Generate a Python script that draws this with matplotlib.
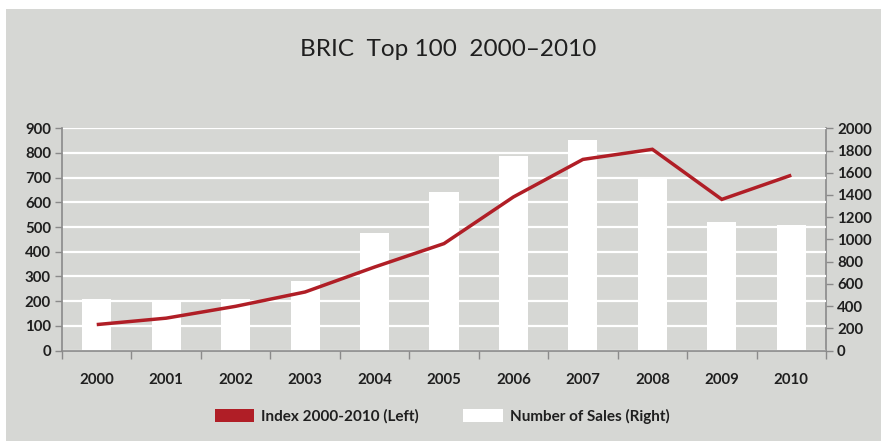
import matplotlib
matplotlib.use("Agg")
import matplotlib.pyplot as plt
from matplotlib.patches import Patch, Rectangle
import numpy as np

# Data
years = ["2000", "2001", "2002", "2003", "2004", "2005",
         "2006", "2007", "2008", "2009", "2010"]
index_left = [105, 131, 179, 237, 338, 433, 622, 774, 815, 612, 710]
sales_right = [466, 442, 466, 629, 1058, 1428, 1750, 1895, 1549, 1158, 1127]
left_ticks = list(range(0, 901, 100))
right_ticks = list(range(0, 2001, 200))

title = "BRIC  Top 100  2000\u20132010"
line_label = "Index 2000-2010 (Left)"
bar_label = "Number of Sales (Right)"

# Styling
BG = "#d6d7d4"
RED = "#b01e26"
TXT = "#1f1f1f"
AXC = "#8a8a8a"
plt.rcParams["font.family"] = ["Lato", "DejaVu Sans"]

W, H = 881, 441
fig = plt.figure(figsize=(W / 100, H / 100), dpi=100, facecolor="white")
fig.patches.append(Rectangle((6 / W, 0), 1 - 6 / W, 1 - 9 / H,
                             transform=fig.transFigure, facecolor=BG,
                             edgecolor="none", zorder=-10))

x0, x1 = 62, 826
y_top, y_bot = 128.3, 350.5
ax = fig.add_axes([x0 / W, 1 - y_bot / H, (x1 - x0) / W, (y_bot - y_top) / H])
axr = ax.twinx()
ax.set_zorder(axr.get_zorder() + 1)
ax.patch.set_visible(False)
axr.patch.set_visible(False)

x = np.arange(len(years))

# Bars on the right-hand scale
axr.bar(x, sales_right, width=0.42, color="white", edgecolor="none", zorder=2)
axr.set_ylim(0, 2000)
axr.set_yticks(right_ticks)

# Index line on the left-hand scale
ax.plot(x, index_left, color=RED, lw=2.5, solid_capstyle="butt",
        solid_joinstyle="miter", zorder=3)
ax.set_ylim(0, 900)
ax.set_yticks(left_ticks)
ax.set_xlim(-0.5, len(years) - 0.5)
ax.yaxis.grid(True, color="white", lw=1.6, zorder=1)
ax.set_axisbelow(True)

# Category ticks between years, labels centred
ax.set_xticks(x)
ax.set_xticklabels(years)
ax.set_xticks(np.arange(-0.5, len(years), 1.0), minor=True)
ax.tick_params(axis="x", which="major", length=0, pad=16,
               labelsize=10.8, labelcolor=TXT)
ax.tick_params(axis="x", which="minor", length=6, width=1, color=AXC)
for lab in ax.get_xticklabels():
    lab.set_fontweight("bold")

ax.tick_params(axis="y", length=5, width=1, color=AXC, labelsize=10.8,
               labelcolor=TXT, pad=3)
axr.tick_params(axis="y", length=5, width=1, color=AXC, labelsize=10.8,
                labelcolor=TXT, pad=3)
for lab in ax.get_yticklabels() + axr.get_yticklabels():
    lab.set_fontweight("bold")
axr.tick_params(axis="x", length=0)

for a in (ax, axr):
    a.spines["top"].set_visible(False)
ax.spines["right"].set_visible(False)
axr.spines["left"].set_visible(False)
axr.spines["bottom"].set_visible(False)
ax.spines["left"].set_color(AXC)
ax.spines["bottom"].set_color(AXC)
axr.spines["right"].set_color(AXC)
for s in (ax.spines["left"], ax.spines["bottom"], axr.spines["right"]):
    s.set_linewidth(1.2)

fig.text(448 / W, 1 - 50 / H, title, ha="center", va="center",
         fontsize=17.5, color=TXT)

handles = [Patch(facecolor=RED, edgecolor="none", label=line_label),
           Patch(facecolor="white", edgecolor="none", label=bar_label)]
leg = fig.legend(handles=handles, loc="center", bbox_to_anchor=(442 / W, 1 - 416 / H),
                 ncol=2, frameon=False, fontsize=11, handlelength=2.6,
                 handleheight=0.98, handletextpad=0.45, columnspacing=2.9)
for t in leg.get_texts():
    t.set_color(TXT)
    t.set_fontweight("bold")

fig.savefig("out.png", dpi=100, facecolor="white")
